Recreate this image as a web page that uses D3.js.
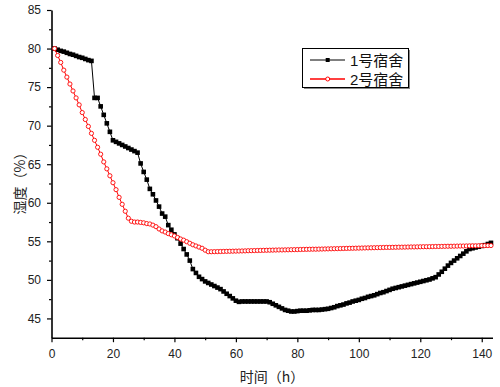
<!DOCTYPE html>
<html>
<head>
<meta charset="utf-8">
<script src="https://cdn.jsdelivr.net/npm/d3@7"></script>
<style>
  body { margin: 0; background: #fff; }
  svg { display: block; font-family: "Liberation Sans", Arial, sans-serif; }
  .tick text { font-size: 12px; fill: #222; }
  .title { font-family: "Noto Sans CJK SC", "Liberation Sans", sans-serif; font-size: 14px; fill: #222; }
  .legend text { font-family: "Liberation Sans", "Noto Sans CJK SC", sans-serif; font-size: 15px; fill: #111; }
</style>
</head>
<body>
<svg width="500" height="387"></svg>
<script>
// hours of measurement
const hours = [
  1, 2, 3, 4, 5, 6, 7, 8, 9, 10, 11, 12, 13, 14, 15, 16, 17, 18, 19, 20,
  21, 22, 23, 24, 25, 26, 27, 28, 29, 30, 31, 32, 33, 34, 35, 36, 37, 38, 39, 40,
  41, 42, 43, 44, 45, 46, 47, 48, 49, 50, 51, 52, 53, 54, 55, 56, 57, 58, 59, 60,
  61, 62, 63, 64, 65, 66, 67, 68, 69, 70, 71, 72, 73, 74, 75, 76, 77, 78, 79, 80,
  81, 82, 83, 84, 85, 86, 87, 88, 89, 90, 91, 92, 93, 94, 95, 96, 97, 98, 99, 100,
  101, 102, 103, 104, 105, 106, 107, 108, 109, 110, 111, 112, 113, 114, 115, 116, 117, 118, 119, 120,
  121, 122, 123, 124, 125, 126, 127, 128, 129, 130, 131, 132, 133, 134, 135, 136, 137, 138, 139, 140,
  141, 142, 143
]

// 1号宿舍 humidity (%)
const dorm1 = [
  80.0, 79.85, 79.7, 79.6, 79.45, 79.3, 79.2, 79.05, 78.9, 78.8, 78.65, 78.5, 78.4, 73.6, 73.6, 72.5, 71.4, 70.3, 69.2, 68.1,
  67.9, 67.7, 67.5, 67.3, 67.1, 66.9, 66.7, 66.5, 65.1, 64.0, 63.0, 61.8, 61.1, 60.3, 59.5, 58.6, 58.2, 57.1, 56.5, 55.9,
  55.4, 54.7, 54.0, 53.3, 52.5, 51.4, 50.9, 50.4, 50.1, 49.8, 49.6, 49.4, 49.2, 49.0, 48.8, 48.5, 48.2, 47.9, 47.6, 47.3,
  47.15, 47.2, 47.2, 47.2, 47.2, 47.2, 47.2, 47.2, 47.2, 47.2, 47.1, 46.9, 46.7, 46.5, 46.3, 46.1, 46.0, 45.9, 45.9, 45.95,
  46.0, 46.0, 46.0, 46.05, 46.1, 46.1, 46.1, 46.15, 46.2, 46.25, 46.35, 46.45, 46.6, 46.7, 46.8, 46.95, 47.05, 47.2, 47.3, 47.4,
  47.55, 47.65, 47.8, 47.9, 48.0, 48.15, 48.3, 48.4, 48.55, 48.7, 48.85, 48.95, 49.05, 49.15, 49.25, 49.35, 49.45, 49.55, 49.65, 49.75,
  49.85, 49.95, 50.05, 50.2, 50.35, 50.7, 51.05, 51.45, 51.85, 52.2, 52.5, 52.8, 53.1, 53.4, 53.7, 54.0, 54.1, 54.2, 54.3, 54.4,
  54.5, 54.65, 54.8
]

// 2号宿舍 humidity (%)
const dorm2 = [
  80.0, 79.1, 78.2, 77.2, 76.3, 75.4, 74.5, 73.6, 72.7, 71.7, 70.8, 69.9, 69.0, 68.1, 67.2, 66.3, 65.3, 64.4, 63.5, 62.6,
  61.7, 60.7, 59.8, 58.9, 58.0, 57.6, 57.5, 57.5, 57.45, 57.4, 57.3, 57.25, 57.1, 56.9, 56.6, 56.35, 56.2, 56.0, 55.85, 55.7,
  55.5, 55.3, 55.15, 54.95, 54.75, 54.55, 54.4, 54.25, 54.1, 53.85, 53.65, 53.65, 53.66, 53.67, 53.68, 53.69, 53.7, 53.71, 53.72, 53.73,
  53.74, 53.75, 53.76, 53.78, 53.79, 53.8, 53.81, 53.82, 53.83, 53.84, 53.85, 53.86, 53.87, 53.88, 53.88, 53.89, 53.9, 53.91, 53.92, 53.93,
  53.94, 53.95, 53.96, 53.97, 53.98, 53.98, 53.99, 54.0, 54.01, 54.02, 54.03, 54.04, 54.05, 54.06, 54.07, 54.08, 54.09, 54.1, 54.11, 54.12,
  54.13, 54.14, 54.15, 54.16, 54.17, 54.18, 54.19, 54.2, 54.21, 54.21, 54.22, 54.23, 54.24, 54.24, 54.25, 54.26, 54.27, 54.27, 54.28, 54.29,
  54.3, 54.3, 54.31, 54.32, 54.33, 54.33, 54.34, 54.35, 54.36, 54.36, 54.37, 54.38, 54.39, 54.39, 54.4, 54.41, 54.42, 54.42, 54.43, 54.44,
  54.44, 54.45, 54.45
]

const seriesNames = ['1号宿舍', '2号宿舍']
const xTicks = [0, 20, 40, 60, 80, 100, 120, 140]
const xMinor = [10, 30, 50, 70, 90, 110, 130]
const yTicks = [45, 50, 55, 60, 65, 70, 75, 80, 85]
const yMinor = [47.5, 52.5, 57.5, 62.5, 67.5, 72.5, 77.5, 82.5]

const svg = d3.select('svg')
const x = d3.scaleLinear().domain([0, 143.5]).range([51.5, 492.5])
const y = d3.scaleLinear().domain([42.5, 85]).range([337.7, 10])

// minor ticks first, then the main axes on top
svg.append('g')
    .attr('transform', 'translate(0,337.7)')
    .call(d3.axisBottom(x).tickValues(xMinor).tickSize(2.5).tickFormat('').tickSizeOuter(0))
    .call(g => g.select('.domain').remove())
svg.append('g')
    .attr('transform', 'translate(51.5,0)')
    .call(d3.axisLeft(y).tickValues(yMinor).tickSize(2.5).tickFormat('').tickSizeOuter(0))
    .call(g => g.select('.domain').remove())

const xAxis = svg.append('g')
    .attr('transform', 'translate(0,337.7)')
    .call(d3.axisBottom(x).tickValues(xTicks).tickSize(4.5).tickPadding(6).tickSizeOuter(0))
const yAxis = svg.append('g')
    .attr('transform', 'translate(51.5,0)')
    .call(d3.axisLeft(y).tickValues(yTicks).tickSize(4.5).tickPadding(6).tickSizeOuter(0))

svg.selectAll('.domain').attr('stroke-width', 1.6).attr('stroke', '#000')
svg.selectAll('.tick line').attr('stroke', '#000').attr('stroke-width', 1.2)
xAxis.selectAll('text').attr('dy', '0.8em')

// axis titles
svg.append('text')
    .attr('class', 'title')
    .attr('x', 272)
    .attr('y', 382)
    .attr('text-anchor', 'middle')
    .text('时间（h）')
svg.append('text')
    .attr('class', 'title')
    .attr('transform', 'translate(25,180) rotate(-90)')
    .attr('text-anchor', 'middle')
    .text('湿度（%）')

const line = d3.line()
    .x((d, i) => x(hours[i]))
    .y(d => y(d))

// series 1: black, filled squares
svg.append('path')
    .datum(dorm1)
    .attr('d', line)
    .attr('fill', 'none')
    .attr('stroke', '#000')
    .attr('stroke-width', 1)
svg.append('g').selectAll('rect')
    .data(dorm1)
    .enter()
    .append('rect')
    .attr('x', (d, i) => x(hours[i]) - 2.3)
    .attr('y', d => y(d) - 2.3)
    .attr('width', 4.6)
    .attr('height', 4.6)
    .attr('fill', '#000')

// series 2: red, open circles
svg.append('path')
    .datum(dorm2)
    .attr('d', line)
    .attr('fill', 'none')
    .attr('stroke', '#ff0000')
    .attr('stroke-width', 1)
svg.append('g').selectAll('circle')
    .data(dorm2)
    .enter()
    .append('circle')
    .attr('cx', (d, i) => x(hours[i]))
    .attr('cy', d => y(d))
    .attr('r', 2.1)
    .attr('fill', '#fff')
    .attr('stroke', '#ff0000')
    .attr('stroke-width', 0.9)

// legend
const legend = svg.append('g').attr('class', 'legend')
legend.append('rect')
    .attr('x', 304).attr('y', 50).attr('width', 106).attr('height', 39)
    .attr('fill', '#888')
legend.append('rect')
    .attr('x', 302.5).attr('y', 48.5).attr('width', 106).attr('height', 39)
    .attr('fill', '#fff').attr('stroke', '#000').attr('stroke-width', 1)

const colors = ['#000', '#ff0000']
seriesNames.forEach((name, i) => {
  const ly = 60 + i * 19
  legend.append('line')
      .attr('x1', 310).attr('x2', 345).attr('y1', ly).attr('y2', ly)
      .attr('stroke', colors[i]).attr('stroke-width', i === 0 ? 1 : 1.5)
  if (i === 0) {
    legend.append('rect')
        .attr('x', 325.7).attr('y', ly - 2).attr('width', 4).attr('height', 4)
        .attr('fill', '#000')
  } else {
    legend.append('circle')
        .attr('cx', 327.7).attr('cy', ly).attr('r', 2)
        .attr('fill', '#fff').attr('stroke', '#ff0000').attr('stroke-width', 1)
  }
  legend.append('text')
      .attr('x', 350)
      .attr('y', ly + 5.5)
      .text(name)
})
</script>
</body>
</html>
